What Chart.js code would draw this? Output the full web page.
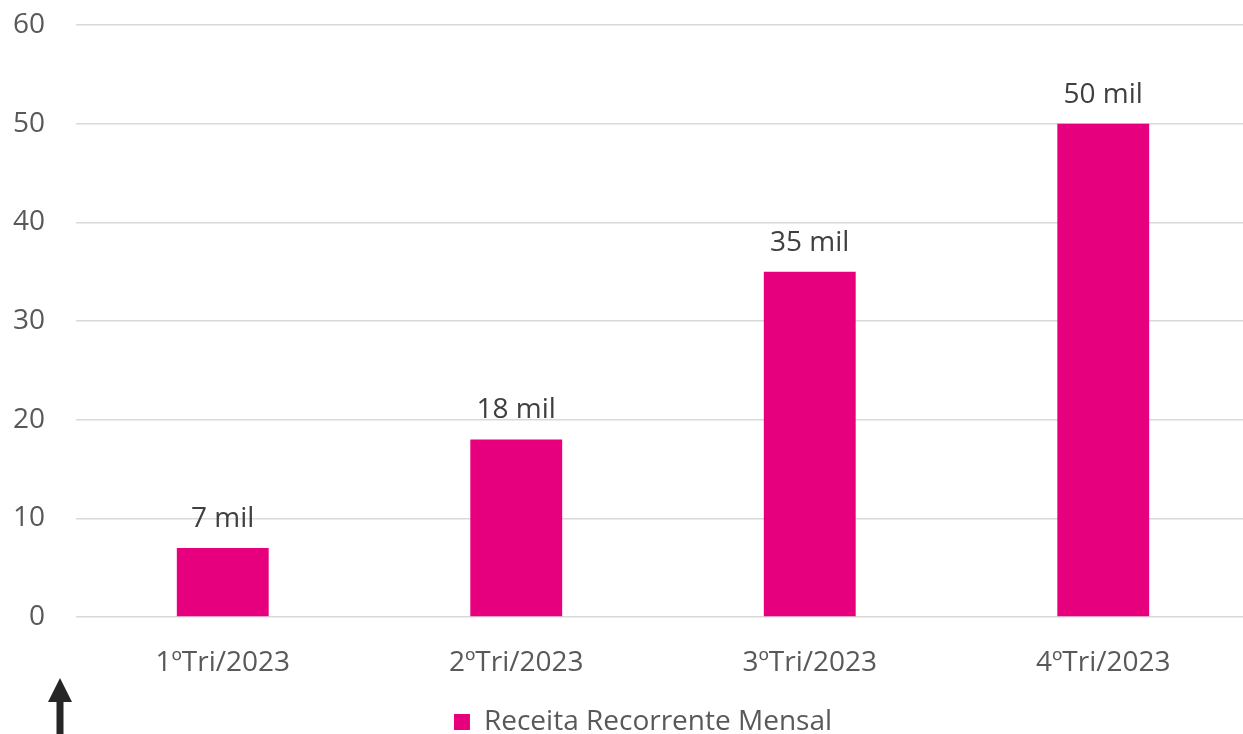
<!DOCTYPE html>
<html lang="pt">
<head>
    <meta charset="UTF-8">
    <title>Receita Recorrente Mensal</title>
    <script src="https://cdn.jsdelivr.net/npm/chart.js"></script>
    <style>
        html, body {
            margin: 0;
            padding: 0;
            background: #fff;
            overflow: hidden;
        }
        #wrap {
            width: 1250px;
            height: 734px;
        }
    </style>
</head>
<body>
    <div id="wrap">
        <canvas id="mrrChart" width="1250" height="734"></canvas>
    </div>

    <script>
        // dados
        const trimestres = ['1ºTri/2023', '2ºTri/2023', '3ºTri/2023', '4ºTri/2023'];
        const receita = [7, 18, 35, 50];
        const rotulos = ['7 mil', '18 mil', '35 mil', '50 mil'];
        const serieNome = 'Receita Recorrente Mensal';

        const FONT = "'Open Sans', 'Noto Sans', sans-serif";
        const FONT_SIZE = 28;

        // rótulos de dados acima das barras
        const dataLabels = {
            id: 'dataLabels',
            afterDatasetsDraw(chart) {
                const ctx = chart.ctx;
                const meta = chart.getDatasetMeta(0);
                ctx.save();
                ctx.font = FONT_SIZE + 'px ' + FONT;
                ctx.fillStyle = '#404040';
                ctx.textAlign = 'center';
                ctx.textBaseline = 'middle';
                meta.data.forEach((bar, i) => {
                    ctx.fillText(rotulos[i], bar.x, bar.y - 29);
                });
                ctx.restore();
            }
        };

        // empurra a legenda um pouco para a direita (como no original)
        const legendShift = {
            id: 'legendShift',
            beforeDraw(chart) {
                if (chart.legend) chart.legend.left = 36;
            }
        };

        // seta preta no canto inferior esquerdo
        const arrow = {
            id: 'arrow',
            afterDraw(chart) {
                const ctx = chart.ctx;
                ctx.save();
                ctx.fillStyle = '#262626';
                ctx.beginPath();
                ctx.moveTo(60, 678);
                ctx.lineTo(72, 702);
                ctx.lineTo(63.5, 702);
                ctx.lineTo(63.5, 734);
                ctx.lineTo(56.5, 734);
                ctx.lineTo(56.5, 702);
                ctx.lineTo(48, 702);
                ctx.closePath();
                ctx.fill();
                ctx.restore();
            }
        };

        const ctx = document.getElementById('mrrChart').getContext('2d');
        new Chart(ctx, {
            type: 'bar',
            data: {
                labels: trimestres,
                datasets: [{
                    label: serieNome,
                    data: receita,
                    backgroundColor: '#E6007E',
                    borderWidth: 0,
                    categoryPercentage: 1,
                    barPercentage: 0.313
                }]
            },
            options: {
                responsive: false,
                animation: false,
                layout: {
                    padding: { left: 0, right: 0, top: 25, bottom: 0 }
                },
                plugins: {
                    tooltip: { enabled: false },
                    legend: {
                        position: 'bottom',
                        maxHeight: 54,
                        labels: {
                            color: '#595959',
                            font: { family: FONT, size: FONT_SIZE },
                            boxWidth: 16,
                            boxHeight: 16,
                            padding: 28
                        }
                    }
                },
                scales: {
                    x: {
                        afterFit(scale) { scale.height = 63; },
                        grid: { display: false, drawTicks: false },
                        border: { display: false },
                        ticks: {
                            color: '#595959',
                            font: { family: FONT, size: FONT_SIZE },
                            padding: 29
                        }
                    },
                    y: {
                        min: 0,
                        max: 60,
                        afterFit(scale) {
                            scale.width = 76;
                            scale.paddingTop = 0;
                            scale.paddingBottom = 0;
                        },
                        grid: { color: '#d9d9d9', lineWidth: 1.5, drawTicks: false },
                        border: { display: false },
                        ticks: {
                            stepSize: 10,
                            color: '#595959',
                            font: { family: FONT, size: FONT_SIZE },
                            padding: 31
                        }
                    }
                }
            },
            plugins: [dataLabels, legendShift, arrow]
        });
    </script>
</body>
</html>
